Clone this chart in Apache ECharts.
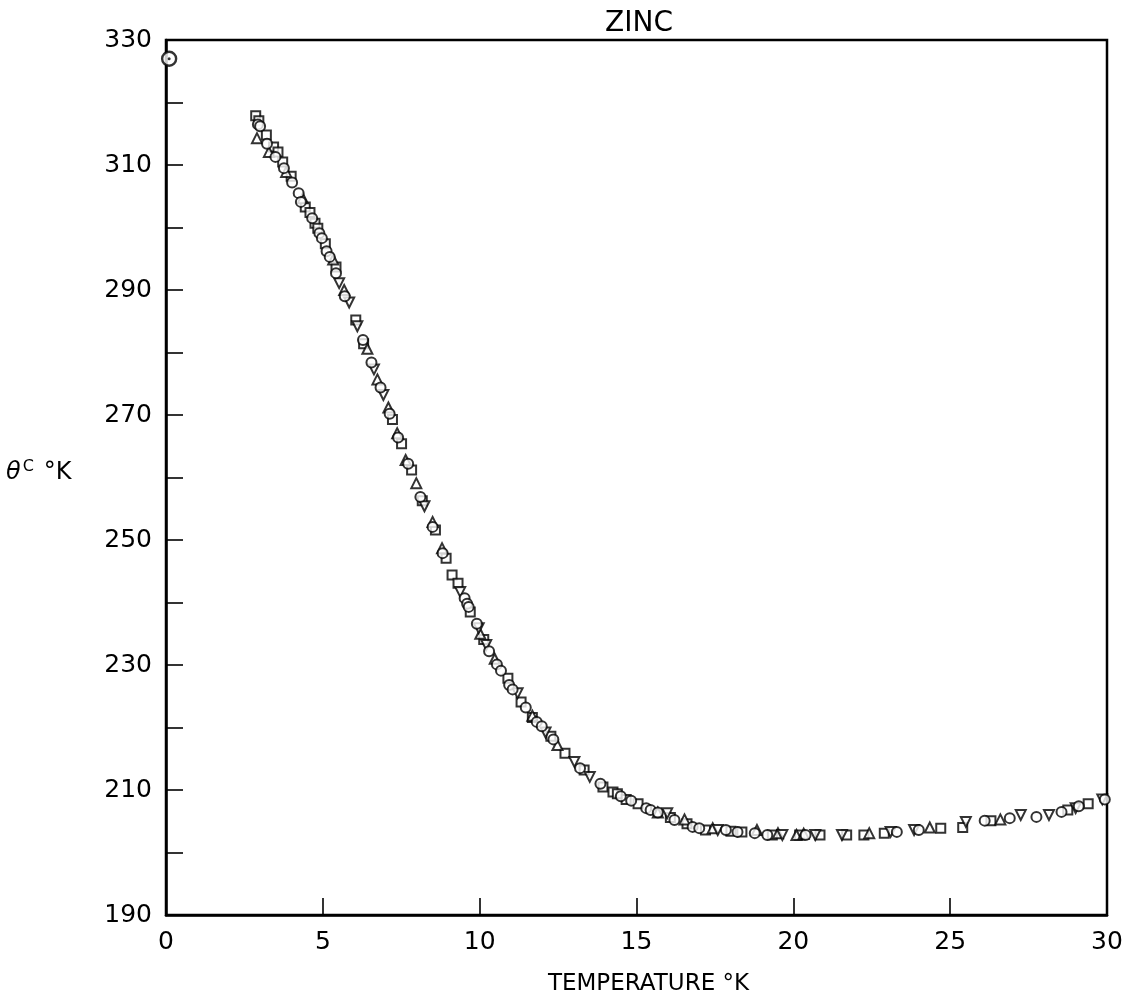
<!DOCTYPE html>
<html>
<head>
<meta charset="utf-8">
<script src="https://cdn.jsdelivr.net/npm/echarts@6/dist/echarts.min.js"></script>
<style>
html,body{margin:0;padding:0;background:#fff;}
#chart{width:1125px;height:1002px;}
</style>
</head>
<body>
<div id="chart"></div>
<script>
// ---- data (T in °K, theta in °K) ----
const circlePts = [
[2.93,316.5],[3.0,316.2],[3.22,313.4],[3.49,311.3],[3.76,309.5],[4.02,307.2],[4.23,305.5],[4.3,304.1],
[4.66,301.5],[4.89,299.1],[4.97,298.3],[5.12,296.2],[5.22,295.3],[5.42,292.7],[5.7,289],[6.28,282],
[6.55,278.4],[6.84,274.4],[7.13,270.2],[7.4,266.4],[7.72,262.2],[8.11,256.9],[8.5,252.1],[8.82,247.9],
[9.52,240.7],[9.6,239.8],[9.65,239.3],[9.91,236.6],[10.3,232.2],[10.55,230.1],[10.68,229.1],[10.94,226.8],
[11.05,226.1],[11.47,223.2],[11.82,220.9],[11.98,220.2],[12.35,218.1],[13.2,213.5],[13.85,211],[14.5,209],
[14.83,208.3],[15.31,207.1],[15.45,206.8],[15.68,206.4],[16.21,205.2],[16.79,204.1],[17.0,203.9],[17.85,203.6],
[18.22,203.3],[18.77,203.1],[19.17,202.8],[20.39,202.8],[23.3,203.3],[24.0,203.6],[26.1,205.1],[26.9,205.5],
[27.75,205.7],[28.55,206.5],[29.1,207.4],[29.93,208.5]
];
const squarePts = [
[2.86,317.9],[2.96,317.1],[3.2,314.8],[3.43,312.9],[3.57,312.1],[3.72,310.5],[3.99,308.2],[4.44,303.3],
[4.59,302.4],[4.75,300.7],[4.84,299.9],[5.08,297.4],[5.42,293.7],[6.05,285.2],[6.3,281.4],[7.22,269.3],
[7.51,265.4],[7.83,261.2],[8.17,256.3],[8.59,251.6],[8.93,247.1],[9.12,244.4],[9.31,243.1],[9.7,238.5],
[10.13,234.1],[10.9,227.9],[11.32,224.1],[11.68,221.6],[12.27,218.6],[12.72,215.9],[13.33,213.2],[13.93,210.5],
[14.25,209.7],[14.39,209.4],[14.67,208.5],[15.05,207.8],[16.08,205.6],[16.61,204.6],[17.2,203.6],[18.01,203.4],
[18.36,203.3],[19.33,202.8],[20.2,202.8],[20.85,202.8],[21.7,202.8],[22.25,202.8],[22.9,203.1],[24.7,203.9],
[25.4,204.0],[26.3,205.1],[28.75,206.8],[29.4,207.8]
];
const triUpPts = [
[2.9,314.3],[3.28,312.1],[3.83,308.9],[4.36,304.7],[5.33,294.9],[5.68,290],[6.42,280.6],[6.74,275.7],
[7.09,271.2],[7.37,267.1],[7.64,262.8],[7.98,259.1],[8.5,252.9],[8.8,248.7],[10.02,235],[10.48,231],
[11.68,221.9],[12.48,217.2],[15.68,206.4],[16.53,205.3],[17.43,203.9],[18.84,203.6],[19.51,203.1],[20.1,202.8],
[20.33,203.0],[22.42,203.1],[24.35,204.0],[26.6,205.3]
];
const triDownPts = [
[5.52,291.1],[5.84,288],[6.1,284.2],[6.63,277.3],[6.93,273.2],[8.24,255.4],[9.38,241.7],[9.97,235.9],
[10.21,233.2],[11.21,225.5],[12.1,219.2],[13.02,214.5],[13.51,212.1],[15.98,206.3],[17.59,203.6],[19.65,202.8],
[20.7,202.8],[21.55,202.8],[23.1,203.3],[23.85,203.6],[25.5,204.9],[27.25,206.0],[28.15,206.0],[29.0,207.1],
[29.85,208.5]
];
const highTPoint = [[0.1,327]];   // ⊙ point on the axis

const xTickLabels = [0,5,10,15,20,25,30];
const yTickLabels = [190,210,230,250,270,290,310,330];

const FONT = 'DejaVu Sans';
const INK = '#000';

const hollow = {color:'#fff', borderColor:INK, borderWidth:2};

const chart = echarts.init(document.getElementById('chart'), null, {renderer:'canvas'});
chart.setOption({
  animation:false,
  backgroundColor:'#fff',
  title:{
    text:'ZINC', left:634, top:5, textAlign:'center',
    textStyle:{fontFamily:FONT, fontSize:28, fontWeight:'normal', color:INK}
  },
  grid:{left:166, right:18, top:40, bottom:87, containLabel:false, outerBoundsMode:'none',
        show:true, borderColor:INK, borderWidth:2.5, backgroundColor:'transparent'},
  xAxis:{
    type:'value', min:0, max:30, interval:5,
    name:'TEMPERATURE °K', nameLocation:'middle', nameGap:58,
    nameTextStyle:{fontFamily:FONT, fontSize:23, color:INK, padding:[0,0,0,24]},
    axisLine:{show:true, lineStyle:{color:INK, width:2.5}},
    axisTick:{show:true, inside:true, length:17, lineStyle:{color:INK, width:1.6}},
    splitLine:{show:false},
    axisLabel:{fontFamily:FONT, fontSize:25, color:INK, margin:15,
      formatter:v => xTickLabels.includes(v) ? String(v) : ''}
  },
  yAxis:{
    type:'value', min:190, max:330, interval:10,
    axisLine:{show:true, lineStyle:{color:INK, width:2.5}},
    axisTick:{show:true, inside:true, length:17, lineStyle:{color:INK, width:1.6}},
    splitLine:{show:false},
    axisLabel:{fontFamily:FONT, fontSize:25, color:INK, margin:14,
      formatter:v => yTickLabels.includes(v) ? String(v) : ''}
  },
  graphic:[{
    type:'text', left:6, top:459,
    style:{
      text:'{t|θ}{s|C}   {k|°K}',
      rich:{
        t:{fontFamily:FONT, fontSize:24, fill:INK, fontStyle:'italic'},
        k:{fontFamily:FONT, fontSize:24, fill:INK},
        s:{fontFamily:FONT, fontSize:16, fill:INK, verticalAlign:'top', padding:[0,0,12,2]}
      }
    }
  }],
  series:[
    {type:'scatter', name:'squares', symbol:'rect', symbolSize:9, data:squarePts, itemStyle:hollow},
    {type:'scatter', name:'triUp', symbol:'triangle', symbolSize:10, data:triUpPts, itemStyle:hollow},
    {type:'scatter', name:'triDown', symbol:'triangle', symbolRotate:180, symbolSize:10, data:triDownPts, itemStyle:hollow},
    {type:'scatter', name:'circles', symbol:'circle', symbolSize:10, data:circlePts, itemStyle:hollow},
    {type:'scatter', name:'highT', symbol:'circle', symbolSize:14, data:highTPoint, z:5,
      itemStyle:{color:'#fff', borderColor:INK, borderWidth:2.4}},
    {type:'scatter', name:'highTdot', symbol:'circle', symbolSize:3, data:highTPoint, z:6,
      itemStyle:{color:INK}}
  ]
});
</script>
</body>
</html>
